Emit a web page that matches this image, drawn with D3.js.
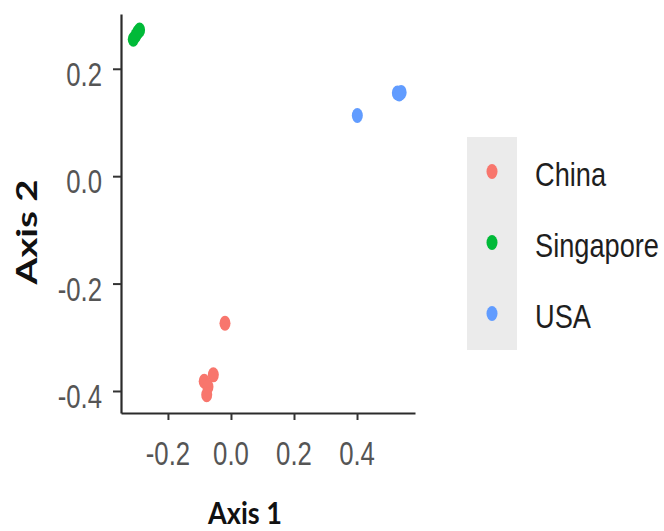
<!DOCTYPE html>
<html>
<head>
<meta charset="utf-8">
<script src="https://cdn.jsdelivr.net/npm/d3@7"></script>
<style>
  html, body { margin: 0; padding: 0; background: #fff; }
  svg { display: block; }
</style>
</head>
<body>
<svg id="chart" width="664" height="531"></svg>
<script>
// Ordination scores by country (Axis 1, Axis 2)
const categories = ["China", "Singapore", "USA"];
const colors = ["#F8766D", "#00BA38", "#619CFF"];

const chinaAxis1 = [-0.019, -0.056, -0.085, -0.073, -0.077];
const chinaAxis2 = [-0.274, -0.370, -0.382, -0.392, -0.407];

const singaporeAxis1 = [-0.310, -0.302, -0.296, -0.290];
const singaporeAxis2 = [0.255, 0.262, 0.268, 0.272];

const usaAxis1 = [0.401, 0.528, 0.534, 0.540];
const usaAxis2 = [0.113, 0.155, 0.153, 0.156];

const xTicks = [-0.2, 0.0, 0.2, 0.4];
const xTickLabels = ["-0.2", "0.0", "0.2", "0.4"];
const yTicks = [-0.4, -0.2, 0.0, 0.2];
const yTickLabels = ["-0.4", "-0.2", "0.0", "0.2"];

const seriesX = [chinaAxis1, singaporeAxis1, usaAxis1];
const seriesY = [chinaAxis2, singaporeAxis2, usaAxis2];

const points = [];
categories.forEach((c, i) => {
  seriesX[i].forEach((v, j) => points.push({ country: c, a1: v, a2: seriesY[i][j] }));
});

const svg = d3.select("#chart");

// panel geometry
const panel = { left: 121, right: 415, top: 14, bottom: 413 };
const x = d3.scaleLinear().domain([-0.349, 0.584]).range([panel.left, panel.right]);
const y = d3.scaleLinear().domain([-0.441, 0.302]).range([panel.bottom, panel.top]);
const color = d3.scaleOrdinal().domain(categories).range(colors);

// text drawn narrow (horizontal squeeze)
function squeezedText(g, tx, ty, str, opts) {
  const wrap = g.append("g").attr("transform", `translate(${tx},${ty})${opts.rotate ? " rotate(-90)" : ""}`);
  const t = wrap.append("text")
    .attr("text-anchor", opts.anchor || "start")
    .attr("font-family", opts.family)
    .attr("font-weight", opts.weight || "normal")
    .attr("font-size", opts.size)
    .attr("fill", opts.fill)
    .text(str);
  let sx = opts.sx || 1;
  if (opts.targetLength) {
    const len = t.node().getComputedTextLength();
    sx = opts.targetLength / len;
  }
  t.attr("transform", `scale(${sx},1)`);
  return t;
}

// axes
const xAxis = d3.axisBottom(x).tickValues(xTicks).tickSize(7).tickSizeOuter(0).tickFormat("");
const yAxis = d3.axisLeft(y).tickValues(yTicks).tickSize(8).tickSizeOuter(0).tickFormat("");

const gx = svg.append("g").attr("transform", `translate(0,${panel.bottom})`).call(xAxis);
const gy = svg.append("g").attr("transform", `translate(${panel.left},0)`).call(yAxis);
[gx, gy].forEach(g => {
  g.select(".domain").attr("stroke", "#2b2b2b").attr("stroke-width", 2.2);
  g.selectAll(".tick line").attr("stroke", "#333").attr("stroke-width", 2);
});

// tick labels
const tickFont = { family: "Liberation Sans, Arial, sans-serif", size: 33, fill: "#555", sx: 0.78 };
xTicks.forEach((v, i) => {
  squeezedText(svg, x(v), 465, xTickLabels[i], Object.assign({ anchor: "middle" }, tickFont));
});
yTicks.forEach((v, i) => {
  squeezedText(svg, 102, y(v) + 17, yTickLabels[i], Object.assign({ anchor: "end" }, tickFont));
});

// axis titles
squeezedText(svg, 245, 524, "Axis 1", {
  anchor: "middle", family: "Lato, Open Sans, sans-serif", weight: 700, size: 30, fill: "#111", targetLength: 74
});
squeezedText(svg, 37, 232, "Axis 2", {
  anchor: "middle", family: "Lato, Open Sans, sans-serif", weight: 700, size: 28, fill: "#111", targetLength: 105, rotate: true
});

// points
svg.append("g").selectAll("ellipse")
  .data(points)
  .join("ellipse")
  .attr("cx", d => x(d.a1))
  .attr("cy", d => y(d.a2))
  .attr("rx", 5.5)
  .attr("ry", 7.5)
  .attr("fill", d => color(d.country));

// legend
const legend = { left: 467, top: 137, keyW: 50, keyH: 71 };
const lg = svg.append("g");
lg.append("rect")
  .attr("x", legend.left).attr("y", legend.top)
  .attr("width", legend.keyW).attr("height", legend.keyH * categories.length)
  .attr("fill", "#ebebeb");
categories.forEach((c, i) => {
  const cy = legend.top + legend.keyH * (i + 0.5) - 1;
  lg.append("ellipse")
    .attr("cx", legend.left + legend.keyW / 2)
    .attr("cy", cy)
    .attr("rx", 5.5).attr("ry", 7.5)
    .attr("fill", color(c));
  squeezedText(lg, 535, cy + 14, c, {
    family: "Liberation Sans, Arial, sans-serif", size: 34, fill: "#1e1e1e", sx: 0.8
  });
});
</script>
</body>
</html>
